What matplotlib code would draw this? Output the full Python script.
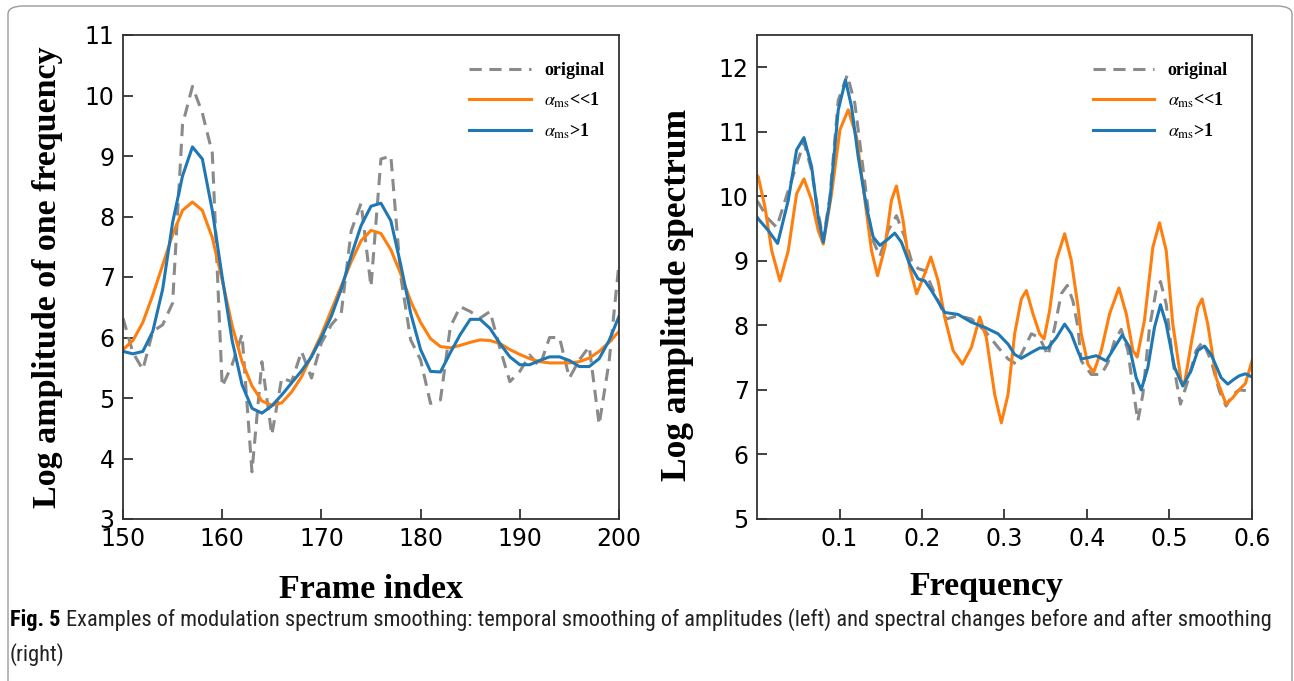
#### Workspace setup ####
import matplotlib
matplotlib.use('Agg')
import matplotlib.pyplot as plt
from matplotlib import font_manager
from matplotlib.patches import FancyBboxPatch

plt.rcParams['mathtext.fontset'] = 'stix'

#### Data ####
# left panel: amplitude of one frequency vs frame index
frame_idx = list(range(150, 201))
left_original = [6.32, 5.75, 5.47, 6.10, 6.21, 6.57, 9.52, 10.15, 9.71, 9.05,
                 5.19, 5.55, 6.05, 3.78, 5.60, 4.39, 5.33, 5.27, 5.77, 5.33,
                 5.91, 6.21, 6.40, 7.76, 8.22, 6.84, 8.95, 9.00, 7.01, 5.96,
                 5.63, 4.91, 4.97, 6.18, 6.51, 6.43, 6.32, 6.43, 5.82, 5.27,
                 5.44, 5.71, 5.52, 6.00, 6.00, 5.33, 5.63, 5.85, 4.56, 5.60,
                 7.23]
left_small = [5.80, 5.95, 6.25, 6.70, 7.20, 7.70, 8.10, 8.24, 8.10, 7.65,
              6.95, 6.20, 5.60, 5.20, 4.95, 4.88, 4.92, 5.10, 5.35, 5.70,
              6.05, 6.45, 6.85, 7.25, 7.60, 7.77, 7.72, 7.45, 7.05, 6.60,
              6.25, 5.98, 5.85, 5.83, 5.87, 5.92, 5.96, 5.95, 5.90, 5.80,
              5.72, 5.65, 5.60, 5.58, 5.58, 5.58, 5.60, 5.66, 5.77, 5.92,
              6.10]
left_large = [5.77, 5.73, 5.77, 6.10, 6.80, 7.90, 8.67, 9.15, 8.95, 8.10,
              7.00, 5.95, 5.22, 4.83, 4.75, 4.87, 5.05, 5.25, 5.45, 5.68,
              6.00, 6.35, 6.80, 7.35, 7.85, 8.17, 8.22, 7.93, 7.20, 6.40,
              5.80, 5.44, 5.43, 5.75, 6.05, 6.30, 6.30, 6.15, 5.90, 5.68,
              5.55, 5.55, 5.62, 5.68, 5.68, 5.62, 5.52, 5.52, 5.65, 5.95,
              6.35]

# right panel: log amplitude spectrum vs modulation frequency
freq_original = [0.0, 0.0016, 0.0137, 0.0238, 0.0379, 0.0569, 0.0662, 0.0742,
                 0.0803, 0.0884, 0.0985, 0.1094, 0.1186, 0.1308, 0.1388, 0.1489,
                 0.159, 0.169, 0.179, 0.187, 0.1953, 0.2034, 0.2155, 0.2296,
                 0.2437, 0.2599, 0.276, 0.2922, 0.3043, 0.3143, 0.3245, 0.3325,
                 0.3426, 0.3527, 0.3608, 0.3688, 0.3761, 0.3829, 0.389, 0.393,
                 0.4052, 0.4173, 0.4253, 0.4334, 0.4415, 0.4496, 0.4556, 0.4616,
                 0.4677, 0.4758, 0.4838, 0.4891, 0.496, 0.504, 0.5133, 0.5222,
                 0.5323, 0.5404, 0.5505, 0.5606, 0.5686, 0.5767, 0.5847, 0.6]
spec_original = [9.93, 9.90, 9.65, 9.52, 10.09, 10.84, 10.40, 9.75,
                 9.32, 10.00, 11.49, 11.88, 11.44, 10.20, 9.37, 9.07,
                 9.47, 9.70, 9.37, 9.01, 8.88, 8.85, 8.49, 8.10,
                 8.15, 8.10, 7.92, 7.66, 7.48, 7.40, 7.66, 7.87,
                 7.81, 7.53, 7.97, 8.49, 8.62, 8.38, 7.97, 7.45,
                 7.24, 7.24, 7.42, 7.76, 7.94, 7.61, 7.04, 6.52,
                 6.93, 7.97, 8.54, 8.68, 8.33, 7.45, 6.78, 7.14,
                 7.61, 7.75, 7.45, 6.98, 6.75, 6.93, 7.00, 6.98]

freq_small = [0.0, 0.0016, 0.0097, 0.0178, 0.0278, 0.0379, 0.048, 0.0569,
              0.0662, 0.0742, 0.0803, 0.0904, 0.1005, 0.1106, 0.1207, 0.1308,
              0.1388, 0.1461, 0.155, 0.163, 0.169, 0.177, 0.185, 0.1935,
              0.2034, 0.2107, 0.2195, 0.2276, 0.2377, 0.249, 0.2599, 0.27,
              0.278, 0.2881, 0.2962, 0.3043, 0.3123, 0.3204, 0.3265, 0.3345,
              0.3426, 0.3479, 0.3547, 0.3628, 0.3729, 0.3809, 0.389, 0.393,
              0.4011, 0.408, 0.4173, 0.4274, 0.4387, 0.4476, 0.4556, 0.4608,
              0.4697, 0.4798, 0.4879, 0.496, 0.504, 0.5141, 0.5182, 0.5262,
              0.5343, 0.5395, 0.5464, 0.5565, 0.5686, 0.5767, 0.5827, 0.592,
              0.6]
spec_small = [10.33, 10.30, 9.83, 9.16, 8.69, 9.16, 10.04, 10.27,
              9.94, 9.47, 9.26, 10.04, 11.03, 11.34, 10.92, 9.94,
              9.16, 8.77, 9.21, 9.94, 10.16, 9.63, 8.90, 8.49,
              8.80, 9.06, 8.69, 8.12, 7.61, 7.40, 7.66, 8.13,
              7.81, 6.93, 6.49, 6.93, 7.87, 8.41, 8.54, 8.18,
              7.87, 7.79, 8.23, 9.01, 9.42, 9.01, 8.30, 7.87,
              7.40, 7.27, 7.61, 8.18, 8.58, 8.18, 7.61, 7.51,
              8.08, 9.21, 9.59, 9.16, 8.02, 7.14, 7.10, 7.71,
              8.28, 8.41, 8.02, 7.19, 6.78, 6.88, 6.98, 7.10,
              7.45]

freq_large = [0.0, 0.0016, 0.0137, 0.025, 0.0379, 0.048, 0.0569, 0.0662,
              0.0742, 0.0803, 0.0884, 0.0985, 0.1073, 0.1146, 0.1227, 0.1328,
              0.1408, 0.1489, 0.159, 0.167, 0.175, 0.185, 0.1953, 0.2034,
              0.2115, 0.2276, 0.2437, 0.2599, 0.276, 0.2922, 0.3043, 0.3123,
              0.3204, 0.3325, 0.3426, 0.3527, 0.3628, 0.3729, 0.3809, 0.389,
              0.393, 0.4011, 0.4112, 0.4233, 0.4334, 0.4427, 0.4516, 0.4596,
              0.4657, 0.4738, 0.4818, 0.4891, 0.496, 0.5061, 0.5161, 0.5262,
              0.5343, 0.5424, 0.5505, 0.5626, 0.5706, 0.5787, 0.5847, 0.592,
              0.6]
spec_large = [9.68, 9.65, 9.47, 9.27, 9.94, 10.72, 10.91, 10.46,
              9.68, 9.29, 9.94, 11.34, 11.80, 11.39, 10.61, 9.83,
              9.37, 9.24, 9.34, 9.43, 9.29, 8.95, 8.72, 8.69,
              8.54, 8.20, 8.17, 8.05, 7.97, 7.87, 7.71, 7.55,
              7.49, 7.58, 7.65, 7.65, 7.81, 8.02, 7.87, 7.60,
              7.48, 7.50, 7.53, 7.45, 7.66, 7.85, 7.66, 7.19,
              7.00, 7.35, 7.97, 8.32, 8.02, 7.35, 7.06, 7.30,
              7.61, 7.68, 7.55, 7.19, 7.09, 7.17, 7.22, 7.25,
              7.20]

legend_labels = ['original', r'$\alpha_{\mathrm{ms}}$<<1', r'$\alpha_{\mathrm{ms}}$>1']
caption_bold = 'Fig. 5'
caption_line1 = ('Examples of modulation spectrum smoothing: temporal smoothing of amplitudes (left) '
                 'and spectral changes before and after smoothing')
caption_line2 = '(right)'


def pick_font(candidates):
    # first family that is really installed
    for name in candidates:
        try:
            font_manager.findfont(font_manager.FontProperties(family=name),
                                  fallback_to_default=False)
            return name
        except ValueError:
            pass
    return 'DejaVu Sans'


#### Plot ####
fig = plt.figure(figsize=(12.94, 6.81), dpi=100)

# rounded frame around the whole figure
frame = FancyBboxPatch((8 / 1294, -0.05), 1284 / 1294, 1.05 - 6 / 681,
                       boxstyle='round,pad=0,rounding_size=0.012',
                       transform=fig.transFigure, fill=False,
                       edgecolor='#9a9a9a', linewidth=1.0)
fig.patches.append(frame)

gray, orange, blue = '#8a8a8a', '#ff7f0e', '#1f77b4'
label_font = dict(family='Liberation Serif', weight='bold', size=24.5)
tick_size = 17


def style_axes(ax):
    for sp in ax.spines.values():
        sp.set_color('#333333')
        sp.set_linewidth(1.3)
    ax.tick_params(direction='in', length=7, width=1.3, color='#333333',
                   labelsize=tick_size, top=False, right=False, pad=6)
    for lbl in ax.get_xticklabels() + ax.get_yticklabels():
        lbl.set_family('DejaVu Sans')


def add_legend(ax, x_anchor):
    leg = ax.legend(legend_labels, loc='upper left', bbox_to_anchor=(x_anchor, 0.962),
                    frameon=False, handlelength=3.4, handletextpad=0.75,
                    labelspacing=0.62, borderpad=0,
                    prop=dict(family='Liberation Serif', weight='bold', size=13))
    return leg


ax1 = fig.add_axes([123 / 1294, 1 - 519 / 681, 496 / 1294, 484 / 681])
ax1.plot(frame_idx, left_original, color=gray, lw=2.2, dashes=(4, 2.5))
ax1.plot(frame_idx, left_small, color=orange, lw=2.2)
ax1.plot(frame_idx, left_large, color=blue, lw=2.2)
ax1.set_xlim(150, 200)
ax1.set_ylim(3, 11)
ax1.set_xticks(range(150, 201, 10))
ax1.set_yticks(range(3, 12))
style_axes(ax1)
add_legend(ax1, 0.68)
ax1.set_xlabel('Frame index', fontdict=label_font, labelpad=16)
ax1.set_ylabel('Log amplitude of one frequency', fontdict=label_font, labelpad=16)

ax2 = fig.add_axes([757 / 1294, 1 - 519 / 681, 495 / 1294, 484 / 681])
ax2.plot(freq_original, spec_original, color=gray, lw=2.2, dashes=(4, 2.5))
ax2.plot(freq_small, spec_small, color=orange, lw=2.2)
ax2.plot(freq_large, spec_large, color=blue, lw=2.2)
ax2.set_xlim(0, 0.6)
ax2.set_ylim(5, 12.5)
ax2.set_xticks([0.1, 0.2, 0.3, 0.4, 0.5, 0.6])
ax2.set_xticklabels(['0.1', '0.2', '0.3', '0.4', '0.5', '0.6'])
ax2.set_yticks(range(5, 13))
style_axes(ax2)
add_legend(ax2, 0.66)
ax2.set_xlabel('Frequency', fontdict=label_font)
ax2.set_ylabel('Log amplitude spectrum', fontdict=dict(label_font, size=25.5))
ax2.xaxis.set_label_coords(0.463, -0.108)
ax2.yaxis.set_label_coords(-0.127, 0.462)

# caption: bold "Fig. 5" then regular text, sized so the first line ends near x=1277
cap_family = pick_font(['Liberation Sans Narrow', 'DejaVu Sans Condensed',
                        'Roboto Condensed', 'Open Sans Condensed', 'Roboto',
                        'Liberation Sans'])
fig.canvas.draw()
renderer = fig.canvas.get_renderer()


def put_caption(size):
    t_bold = fig.text(10 / 1294, 1 - 620 / 681, caption_bold, fontsize=size,
                      weight='bold', family=cap_family, va='center', ha='left')
    bb = t_bold.get_window_extent(renderer=renderer)
    t_line = fig.text((bb.x1 + 5) / 1294, 1 - 620 / 681, caption_line1,
                      fontsize=size, family=cap_family, va='center', ha='left',
                      color='#222222')
    return t_bold, t_line


t_bold, t_line = put_caption(14.0)
end_x = t_line.get_window_extent(renderer=renderer).x1
cap_size = 14.0 * (1277 - 10) / (end_x - 10)
t_bold.remove()
t_line.remove()
put_caption(cap_size)
fig.text(10 / 1294, 1 - 655 / 681, caption_line2, fontsize=cap_size,
         family=cap_family, va='center', ha='left', color='#222222')

plt.savefig('out.png', dpi=100)
plt.close()
